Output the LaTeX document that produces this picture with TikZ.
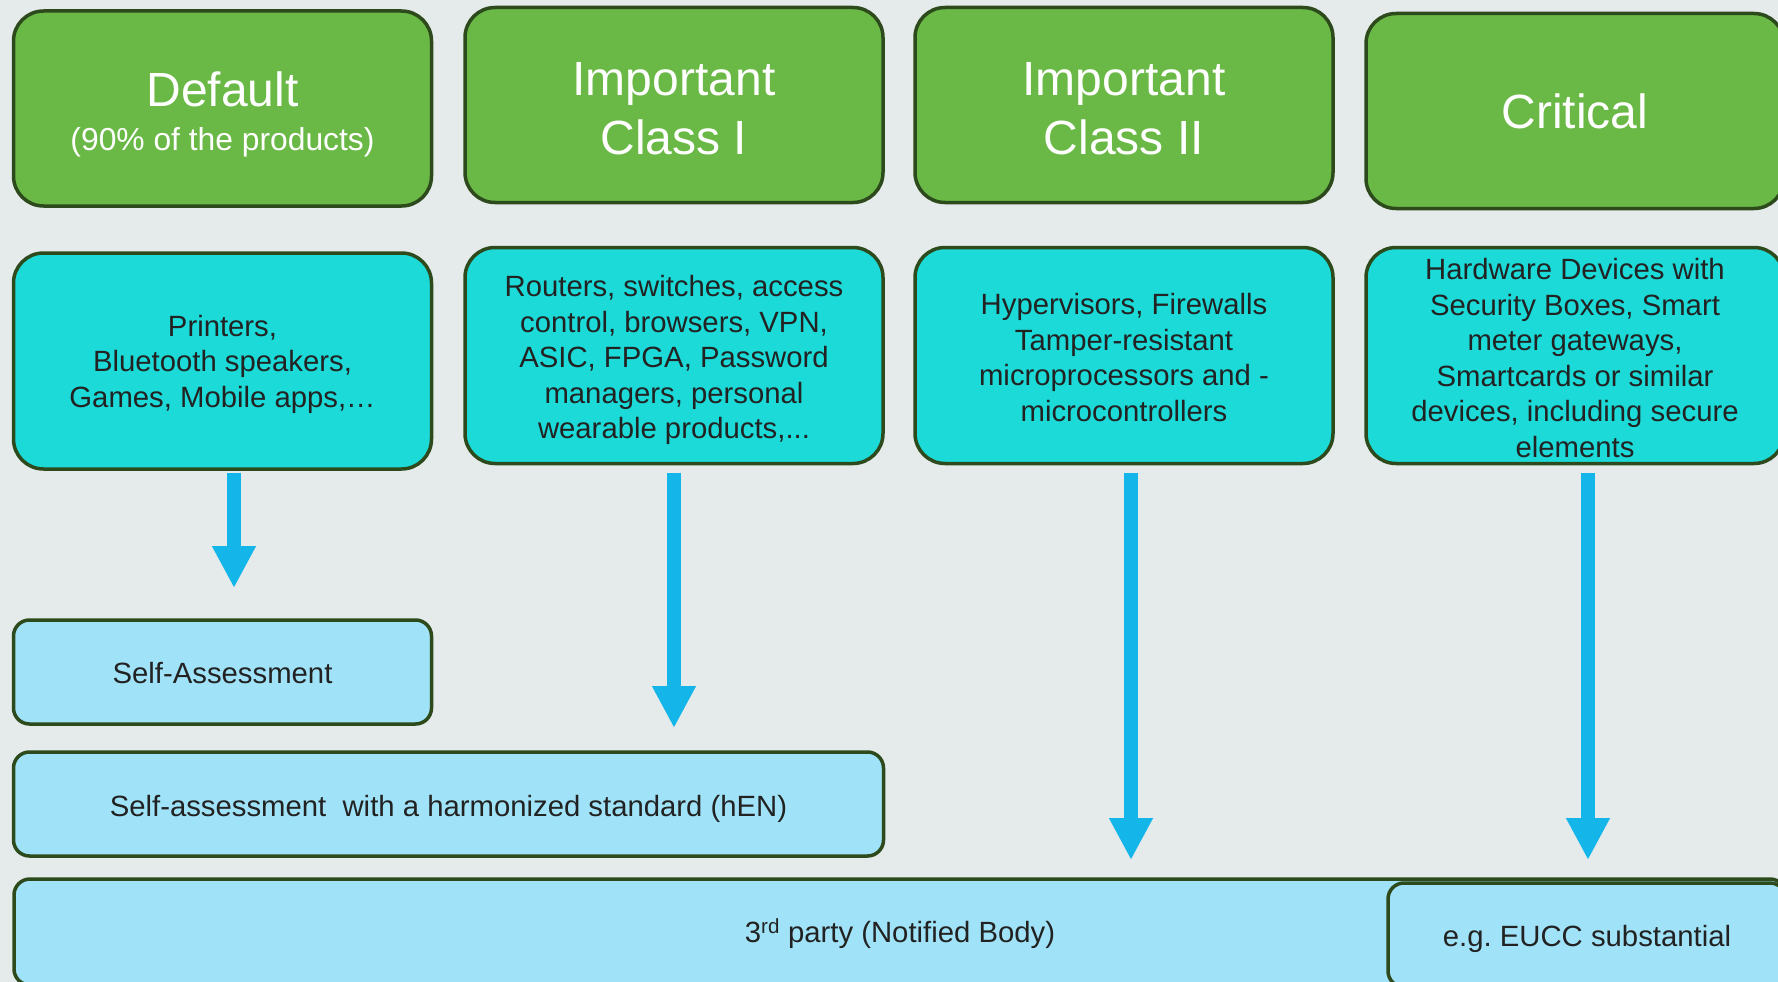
\documentclass[tikz,border=0pt]{standalone}
\usepackage{fontspec}
\setmainfont{Liberation Sans}
\usetikzlibrary{arrows.meta,positioning}
\definecolor{bgpaper}{HTML}{E5EAEA}
\definecolor{clsgreen}{HTML}{6AB946}
\definecolor{rim}{HTML}{2D4A1C}
\definecolor{prodcyan}{HTML}{1BDAD8}
\definecolor{assessblue}{HTML}{A0E3F8}
\definecolor{flowblue}{HTML}{14B6EA}
\definecolor{ink}{HTML}{222222}
\newcommand{\liftline}[1]{\rule{0pt}{#1}}
\tikzset{
  box/.style={draw=rim,line width=3.5pt,rounded corners=30pt,align=center,inner sep=0pt},
  cls/.style={box,fill=clsgreen,text=white,minimum width=418pt,minimum height=195pt,
              font=\fontsize{48}{59}\selectfont},
  prod/.style={box,fill=prodcyan,text=ink,minimum width=418pt,minimum height=216pt,
               font=\fontsize{29.3}{35.5}\selectfont},
  assess/.style={box,rounded corners=16pt,fill=assessblue,text=ink,minimum height=104pt,
                 font=\fontsize{29.3}{35}\selectfont},
  flow/.style={draw=flowblue,line width=14pt,-{Triangle[width=41pt,length=42pt]}},
  padtop/.style={execute at begin node={\rule{0pt}{#1}}},
}

\begin{document}
\begin{tikzpicture}[x=1pt,y=-1pt]
  \useasboundingbox (0,0) rectangle (1778,982);
  \clip (0,0) rectangle (1778,982);
  \fill[bgpaper] (0,0) rectangle (1778,982);
  % product classes
  \node[cls] (cd) at (222.5,108.5)
    {\liftline{0.97em}Default\\[-15pt]{\fontsize{31.8}{38}\selectfont (90\% of the products)}};
  \node[cls] (ci)  at (674,105)  {\liftline{0.86em}Important\\Class I};
  \node[cls] (cii) at (1124,105) {\liftline{0.86em}Important\\Class II};
  \node[cls] (cc) at (1575,111) {Critical};
  % example products
  \node[prod] (pd) at (222.5,361)
    {\liftline{0.95em}Printers,\\Bluetooth speakers,\\Games, Mobile apps,…};
  \node[prod] (pi) at (674,355.5)
    {\liftline{1.04em}Routers, switches, access\\control, browsers, VPN,\\ASIC, FPGA, Password\\managers, personal\\wearable products,...};
  \node[prod] (pii) at (1124,355.5)
    {\liftline{0.87em}Hypervisors, Firewalls\\Tamper-resistant\\microprocessors and -\\microcontrollers};
  \node[prod] (pc) at (1575,355.5)
    {\liftline{0.89em}Hardware Devices with\\Security Boxes, Smart\\meter gateways,\\Smartcards or similar\\devices, including secure\\elements};
  % assessment routes
  \node[assess,padtop=0.8em,minimum width=418pt] (sa) at (222.5,672) {Self-Assessment};
  \node[assess,padtop=1.04em,minimum width=870pt] (sh) at (448.5,804)
    {Self-assessment\ \ with a harmonized standard (hEN)};
  \node[assess,padtop=0.95em,minimum width=1772pt,minimum height=106pt] (tp) at (900,932)
    {3\textsuperscript{rd} party (Notified Body)};
  \node[assess,padtop=0.96em,minimum width=398pt] (eu) at (1587,935) {e.g.\ EUCC substantial};
  % arrows
  \coordinate (e1) at (234,588);
  \coordinate (e2) at (674,728);
  \coordinate (e3) at (1131,860);
  \coordinate (e4) at (1588,860);
  \draw[flow] ([yshift=-1.75pt]pd.south -| e1) -- (e1);
  \draw[flow] ([yshift=-7.5pt]pi.south -| e2) -- (e2);
  \draw[flow] ([yshift=-7.5pt]pii.south -| e3) -- (e3);
  \draw[flow] ([yshift=-7.5pt]pc.south -| e4) -- (e4);
\end{tikzpicture}
\end{document}
